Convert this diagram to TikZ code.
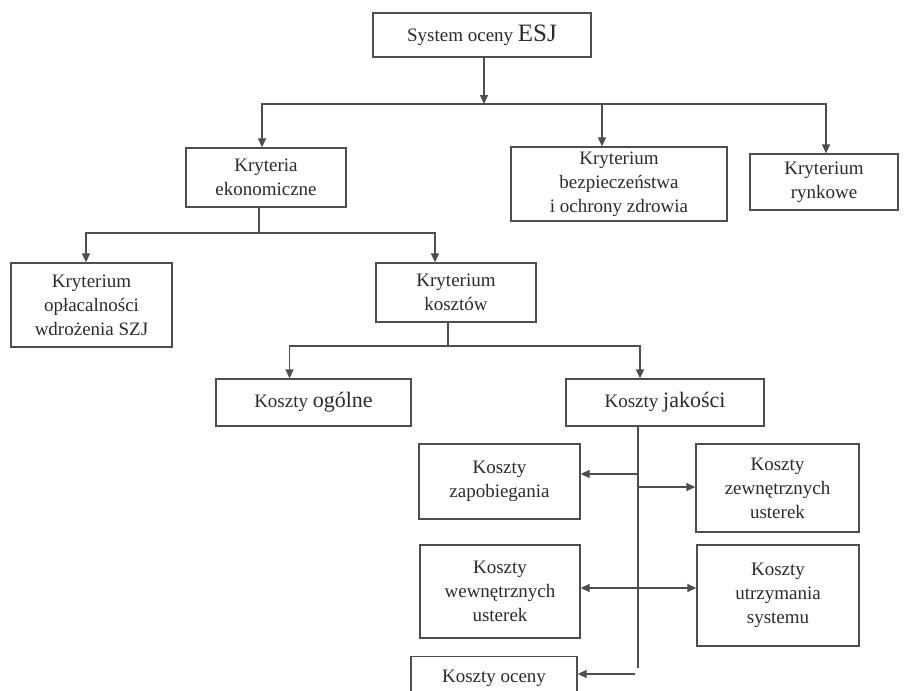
\documentclass[tikz,border=0pt]{standalone}
\usepackage{fontspec}
\setmainfont{Liberation Serif}
\usetikzlibrary{arrows.meta}
\definecolor{ink}{HTML}{2B2B2B}
\definecolor{wire}{HTML}{4E4E4E}
\begin{document}
\begin{tikzpicture}[x=1pt,y=-1pt,
  box/.style={draw=wire, line width=1.3pt, rectangle, inner sep=0pt, align=center,
              text=ink, font=\fontsize{19}{24}\selectfont},
  link/.style={draw=wire, line width=1.4pt},
  tip/.tip={Triangle[length=9pt,width=8pt]},
  arr/.style={link, -tip},
]
\useasboundingbox (0,0) rectangle (908,691);
\clip (0,0) rectangle (908,691);
\fill[white] (0,0) rectangle (908,691);

% level 0
\node[box, minimum width=218pt, minimum height=44pt] (esj) at (482,35)
  {System oceny {\fontsize{25}{25}\selectfont ESJ}};

% level 1
\node[box, minimum width=160pt, minimum height=59pt] (ekon) at (266,177.5)
  {Kryteria\\ekonomiczne};
\node[box, minimum width=216pt, minimum height=74pt] (bezp) at (619,184)
  {Kryterium\\bezpieczeństwa\\i ochrony zdrowia};
\node[box, minimum width=148pt, minimum height=56pt] (rynk) at (824,182)
  {Kryterium\\rynkowe};

% level 2
\node[box, minimum width=161pt, minimum height=84pt] (oplac) at (91.5,305)
  {Kryterium\\opłacalności\\wdrożenia SZJ};
\node[box, minimum width=160pt, minimum height=59pt] (kosz) at (456,292.5)
  {Kryterium\\kosztów};

% level 3
\node[box, minimum width=195pt, minimum height=47pt] (ogolne) at (313.5,402.5)
  {Koszty {\fontsize{22}{24}\selectfont ogólne}};
\node[box, minimum width=198pt, minimum height=47pt] (jakosci) at (665,402.5)
  {Koszty {\fontsize{22}{24}\selectfont jakości}};

% quality cost groups
\node[box, minimum width=161pt, minimum height=75pt] (zapob) at (499.5,481.5)
  {Koszty\\zapobiegania};
\node[box, minimum width=163pt, minimum height=88pt] (zewn) at (777.5,488)
  {Koszty\\zewnętrznych\\usterek};
\node[box, minimum width=160pt, minimum height=93pt] (wewn) at (500,591.5)
  {Koszty\\wewnętrznych\\usterek};
\node[box, minimum width=162pt, minimum height=101pt] (utrz) at (778,595.5)
  {Koszty\\utrzymania\\systemu};
\node[box, anchor=north, minimum width=166pt, minimum height=74pt,
      label={[anchor=north, yshift=-11pt, text=ink, font=\fontsize{19}{24}\selectfont]north:Koszty oceny}]
  (ocena) at (494,656) {};

% connectors, top level
\coordinate (j1) at (484,104);
\draw[arr] ([xshift=2pt]esj.south) -- (j1);
\draw[arr] (j1) -| ([xshift=-4pt]ekon.north);
\draw[arr] (j1) -| ([xshift=-17pt]bezp.north);
\draw[arr] (j1) -| ([xshift=2pt]rynk.north);

% economic criteria
\coordinate (j2) at (259,233);
\draw[link] ([xshift=-7pt]ekon.south) -- (j2);
\draw[arr] (j2) -| ([xshift=-5.5pt]oplac.north);
\draw[arr] (j2) -| ([xshift=-21pt]kosz.north);

% cost criterion
\coordinate (j3) at (448,346);
\draw[link] ([xshift=-8pt]kosz.south) -- (j3);
\draw[arr] (j3) -| ([xshift=-24pt]ogolne.north);
\draw[arr] (j3) -| ([xshift=-25pt]jakosci.north);

% quality costs trunk and branches
\coordinate (tend) at (638,668);
\draw[link] ([xshift=-27pt]jakosci.south) -- (tend);
\coordinate (b1) at (638,474);
\coordinate (b2) at (638,487);
\coordinate (b3) at (638,588);
\coordinate (b4) at (635,674);
\draw[arr] (b1) -- (b1 -| zapob.east);
\draw[arr] (b2) -- (b2 -| zewn.west);
\draw[link, tip-tip] (b3 -| wewn.east) -- (b3 -| utrz.west);
\draw[arr] (b4) -- (b4 -| ocena.east);
\end{tikzpicture}
\end{document}
